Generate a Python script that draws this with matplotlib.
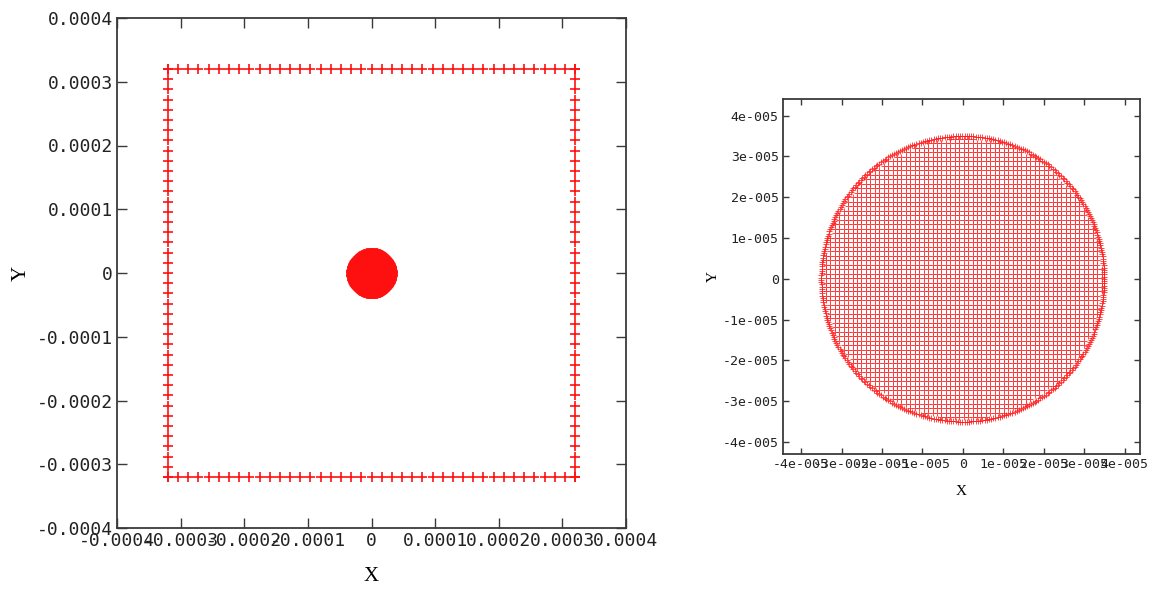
import numpy as np
import matplotlib.pyplot as plt

# --- data ---
# wall particles: square boundary, half-width and spacing
wall_half = 0.00032
wall_step = 0.000016
# fluid particles: disc of lattice points + rim ring
disc_radius = 3.5e-5
disc_step = 1.1e-6

left_ticks = [-0.0004, -0.0003, -0.0002, -0.0001, 0, 0.0001, 0.0002, 0.0003, 0.0004]
left_tick_labels = ['-0.0004', '-0.0003', '-0.0002', '-0.0001', '0',
                    '0.0001', '0.0002', '0.0003', '0.0004']
right_ticks = [-4e-5, -3e-5, -2e-5, -1e-5, 0, 1e-5, 2e-5, 3e-5, 4e-5]
right_tick_labels = ['-4e-005', '-3e-005', '-2e-005', '-1e-005', '0',
                     '1e-005', '2e-005', '3e-005', '4e-005']

# boundary points
n_side = int(round(2 * wall_half / wall_step)) + 1
s = np.linspace(-wall_half, wall_half, n_side)
wall_x = np.concatenate([s, s, np.full(n_side, -wall_half), np.full(n_side, wall_half)])
wall_y = np.concatenate([np.full(n_side, wall_half), np.full(n_side, -wall_half), s, s])

# disc points
g = np.arange(-disc_radius, disc_radius + disc_step / 2, disc_step)
gx, gy = np.meshgrid(g, g)
inside = gx**2 + gy**2 <= (disc_radius - disc_step * 0.5)**2
n_rim = int(2 * np.pi * disc_radius / (disc_step * 0.5))
th = np.linspace(0, 2 * np.pi, n_rim, endpoint=False)
disc_x = np.concatenate([gx[inside], disc_radius * np.cos(th)])
disc_y = np.concatenate([gy[inside], disc_radius * np.sin(th)])

mono = 'DejaVu Sans Mono'
spine_col = '#3a3a3a'

fig = plt.figure(figsize=(11.54, 5.89), dpi=100)


def style_axes(ax, ticks, labels, fs, tick_len):
    ax.set_xticks(ticks)
    ax.set_yticks(ticks)
    ax.set_xticklabels(labels)
    ax.set_yticklabels(labels)
    ax.tick_params(direction='in', top=True, right=True, length=tick_len,
                   width=1.0, color=spine_col, labelsize=fs, pad=3,
                   labelcolor='#222222')
    for lab in ax.get_xticklabels() + ax.get_yticklabels():
        lab.set_family(mono)
    for sp in ax.spines.values():
        sp.set_color(spine_col)
        sp.set_linewidth(1.3)


# ---------- left: whole domain ----------
ax1 = fig.add_axes([117 / 1154, 61 / 589, 509 / 1154, 510 / 589])
ax1.plot(wall_x, wall_y, ls='none', marker='+', ms=7.5, mew=1.2, color='#ff1010')
ax1.plot(disc_x, disc_y, ls='none', marker='+', ms=4, mew=1.0, color='#ff1010')
ax1.set_xlim(-0.0004, 0.0004)
ax1.set_ylim(-0.0004, 0.0004)
style_axes(ax1, left_ticks, left_tick_labels, 13, 7)
ax1.set_xlabel('X', family='Liberation Serif', fontsize=15, labelpad=12)
ax1.set_ylabel('Y', family='Liberation Serif', fontsize=15, labelpad=4)

# ---------- right: close-up of the disc ----------
ax2 = fig.add_axes([783 / 1154, 134.7 / 589, 356.5 / 1154, 355 / 589])
ax2.plot(disc_x, disc_y, ls='none', marker='+', ms=3.8, mew=0.7,
         color='#ff1a1a', alpha=0.8)
ax2.set_xlim(-4.45e-5, 4.37e-5)
ax2.set_ylim(-4.3e-5, 4.4e-5)
style_axes(ax2, right_ticks, right_tick_labels, 9.5, 4.5)
ax2.set_xlabel('X', family='Liberation Serif', fontsize=11, labelpad=10)
ax2.set_ylabel('Y', family='Liberation Serif', fontsize=11, labelpad=2)

fig.savefig('out.png', dpi=100, facecolor='white')
